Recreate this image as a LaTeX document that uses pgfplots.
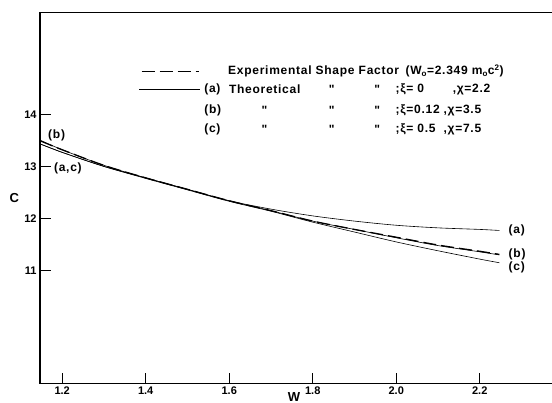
\documentclass[border=0pt]{standalone}
\usepackage{fontspec}
\setmainfont{Liberation Sans}
\newfontfamily\lgfam{Liberation Sans}[LetterSpace=6]
\usepackage{pgfplots}
\usepackage{pgfplotstable}
\pgfplotsset{compat=1.18}
\usetikzlibrary{calc}

\pgfplotstableread{
W C
1.148 13.43
1.2 13.27
1.3 13.00
1.4 12.78
1.5 12.56
1.6 12.34
1.7 12.18
1.8 12.05
1.9 11.95
2.0 11.87
2.1 11.82
2.2 11.79
2.247 11.77
}\curvea

\pgfplotstableread{
W C
1.148 13.50
1.2 13.32
1.3 13.02
1.4 12.78
1.5 12.56
1.6 12.34
1.7 12.15
1.8 11.95
1.9 11.79
2.0 11.63
2.1 11.48
2.2 11.36
2.247 11.30
}\curveb

\pgfplotstableread{
W C
1.148 13.43
1.2 13.27
1.3 13.00
1.4 12.77
1.5 12.55
1.6 12.33
1.7 12.14
1.8 11.93
1.9 11.74
2.0 11.55
2.1 11.38
2.2 11.22
2.247 11.15
}\curvec

\pgfplotstableread{
W C
1.148 13.49
1.2 13.32
1.3 13.02
1.4 12.78
1.5 12.56
1.6 12.34
1.7 12.15
1.8 11.95
1.9 11.79
2.0 11.64
2.1 11.49
2.2 11.37
2.247 11.31
}\exper

\newcommand{\lgf}{\lgfam\bfseries\fontsize{12}{14}\selectfont}

\begin{document}
\begin{tikzpicture}
\begin{axis}[
  scale only axis, width=512pt, height=370.4pt,
  xmin=1.147, xmax=2.376, ymin=8.83, ymax=15.96,
  separate axis lines,
  x axis line style={line width=1.0pt},
  y axis line style={line width=1.5pt},
  tick pos=left,
  tick align=inside,
  major tick length=11pt,
  xtick={1.2,1.4,1.6,1.8,2.0,2.2},
  xticklabels={1.2,1.4,1.6,1.8,2.0,2.2},
  ytick={11,12,13,14},
  yticklabels={11,12,13,14},
  every tick/.append style={line width=1.1pt, black},
  ticklabel style={font=\bfseries\fontsize{11}{13}\selectfont},
  clip=false,
]
\addplot[black, line width=0.6pt, smooth] table {\curvea};
\addplot[black, line width=0.6pt, smooth] table {\curveb};
\addplot[black, line width=0.6pt, smooth] table {\curvec};
\addplot[black, line width=1.3pt, smooth, dash pattern=on 13pt off 5pt] table {\exper};

% tick marks as short plotted segments (11pt long)
\addplot[black, line width=1.1pt, forget plot] coordinates {(1.2,8.83) (1.2,9.04)};
\addplot[black, line width=1.1pt, forget plot] coordinates {(1.4,8.83) (1.4,9.04)};
\addplot[black, line width=1.1pt, forget plot] coordinates {(1.6,8.83) (1.6,9.04)};
\addplot[black, line width=1.1pt, forget plot] coordinates {(1.8,8.83) (1.8,9.04)};
\addplot[black, line width=1.1pt, forget plot] coordinates {(2.0,8.83) (2.0,9.04)};
\addplot[black, line width=1.1pt, forget plot] coordinates {(2.2,8.83) (2.2,9.04)};
\addplot[black, line width=1.1pt, forget plot] coordinates {(1.147,11) (1.1734,11)};
\addplot[black, line width=1.1pt, forget plot] coordinates {(1.147,12) (1.1734,12)};
\addplot[black, line width=1.1pt, forget plot] coordinates {(1.147,13) (1.1734,13)};
\addplot[black, line width=1.1pt, forget plot] coordinates {(1.147,14) (1.1734,14)};

\coordinate (ll) at (rel axis cs:0,0);
\coordinate (ur) at (rel axis cs:1,1);

\node[font=\bfseries\fontsize{13}{15}\selectfont] at (axis cs:1.0855,12.4) {C};
\node[font=\bfseries\fontsize{13}{15}\selectfont] at (axis cs:1.755,8.574) {W};

% curve labels
\node[font=\lgf, anchor=west, inner sep=0] at (axis cs:1.166,13.60) {(b)};
\node[font=\lgf, anchor=west, inner sep=0] at (axis cs:1.18,12.97) {(a,c)};
\node[font=\lgf, anchor=west, inner sep=0] at (axis cs:2.269,11.78) {(a)};
\node[font=\lgf, anchor=west, inner sep=0] at (axis cs:2.269,11.32) {(b)};
\node[font=\lgf, anchor=west, inner sep=0] at (axis cs:2.269,11.06) {(c)};

% legend
\draw[line width=1.3pt, dash pattern=on 13pt off 5pt] (axis cs:1.390,14.83) -- (axis cs:1.527,14.83);
\draw[line width=0.6pt] (axis cs:1.385,14.475) -- (axis cs:1.530,14.475);
\node[font=\lgf, anchor=west, inner sep=0] at (axis cs:1.597,14.83) {Experimental Shape Factor};
\node[font=\lgf, anchor=west, inner sep=0] at (axis cs:2.022,14.83) {(W\textsubscript{o}=2.349 m\textsubscript{o}c\textsuperscript{2})};
\node[font=\lgf, anchor=west, inner sep=0] at (axis cs:1.540,14.475) {(a)};
\node[font=\lgf, anchor=west, inner sep=0] at (axis cs:1.599,14.475) {Theoretical};
\node[font=\lgf, anchor=west, inner sep=0] at (axis cs:1.540,14.077) {(b)};
\node[font=\lgf, anchor=west, inner sep=0] at (axis cs:1.540,13.706) {(c)};
\node[font=\lgf, anchor=west, inner sep=0] at (axis cs:1.838,14.475) {"};
\node[font=\lgf, anchor=west, inner sep=0] at (axis cs:1.947,14.475) {"};
\node[font=\lgf, anchor=west, inner sep=0] at (axis cs:1.677,14.077) {"};
\node[font=\lgf, anchor=west, inner sep=0] at (axis cs:1.838,14.077) {"};
\node[font=\lgf, anchor=west, inner sep=0] at (axis cs:1.947,14.077) {"};
\node[font=\lgf, anchor=west, inner sep=0] at (axis cs:1.677,13.706) {"};
\node[font=\lgf, anchor=west, inner sep=0] at (axis cs:1.838,13.706) {"};
\node[font=\lgf, anchor=west, inner sep=0] at (axis cs:1.947,13.706) {"};
\node[font=\lgf, anchor=west, inner sep=0] at (axis cs:1.998,14.475) {;ξ= 0};
\node[font=\lgf, anchor=west, inner sep=0] at (axis cs:2.135,14.475) {,χ=2.2};
\node[font=\lgf, anchor=west, inner sep=0] at (axis cs:1.998,14.077) {;ξ=0.12};
\node[font=\lgf, anchor=west, inner sep=0] at (axis cs:2.113,14.077) {,χ=3.5};
\node[font=\lgf, anchor=west, inner sep=0] at (axis cs:1.998,13.706) {;ξ= 0.5};
\node[font=\lgf, anchor=west, inner sep=0] at (axis cs:2.113,13.706) {,χ=7.5};
\end{axis}
\pgfresetboundingbox
\path ($(ll)+(-40pt,-19.3pt)$) rectangle ($(ur)+(-1.2pt,12.3pt)$);
\end{tikzpicture}
\end{document}
